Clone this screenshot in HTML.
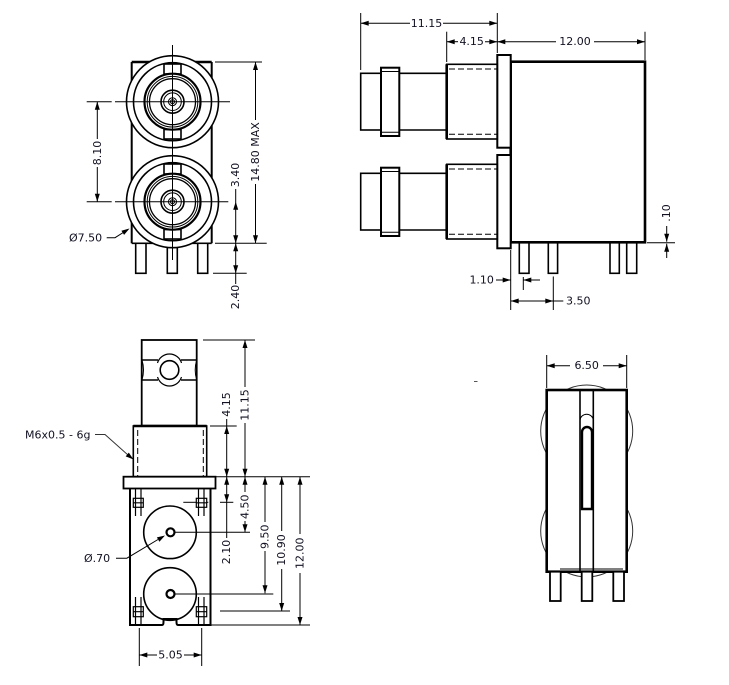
<!DOCTYPE html>
<html><head><meta charset="utf-8"><style>
html,body{margin:0;padding:0;background:#fff;}
svg{display:block;}
text{font-family:"DejaVu Sans","Liberation Sans",sans-serif;font-size:11px;fill:#111122;}
</style></head><body>
<svg width="729" height="685" viewBox="0 0 729 685" xmlns="http://www.w3.org/2000/svg">
<rect width="729" height="685" fill="#fff"/>

<!-- ========== TOP-LEFT VIEW ========== -->
<g stroke="#000" fill="none">
  <!-- body -->
  <line x1="131.7" y1="62" x2="131.7" y2="243.3" stroke-width="2"/>
  <line x1="211.7" y1="62" x2="211.7" y2="243.3" stroke-width="2"/>
  <line x1="131.7" y1="62" x2="211.7" y2="62" stroke-width="2.5"/>
  <line x1="131.7" y1="243.3" x2="211.7" y2="243.3" stroke-width="1.6"/>
  <!-- pins -->
  <rect x="135.7" y="243.3" width="10.3" height="30" stroke-width="1.6" fill="#fff"/>
  <rect x="167.3" y="243.3" width="10" height="30" stroke-width="1.6" fill="#fff"/>
  <rect x="197.7" y="243.3" width="10" height="30" stroke-width="1.6" fill="#fff"/>
  <!-- connectors -->
  <g id="conn">
    <circle cx="172.5" cy="101.7" r="46" stroke-width="1.6" fill="#fff"/>
    <circle cx="172.5" cy="101.7" r="39" stroke-width="1.6"/>
    <rect x="164" y="64" width="17" height="10" stroke-width="1.6"/>
    <rect x="164" y="129.5" width="17" height="9.5" stroke-width="1.6"/>
    <circle cx="172.5" cy="101.7" r="28" stroke-width="2.2" fill="#fff"/>
    <circle cx="172.5" cy="101.7" r="25.3" stroke-width="1"/>
    <circle cx="172.5" cy="101.7" r="23" stroke-width="1.3"/>
    <circle cx="172.5" cy="101.7" r="11.5" stroke-width="1.6"/>
    <circle cx="172.5" cy="101.7" r="8.8" stroke-width="1"/>
    <circle cx="172.5" cy="101.7" r="4" stroke-width="1"/>
    <circle cx="172.5" cy="101.7" r="2" stroke-width="1"/>
  </g>
  <g transform="translate(0,100)">
    <circle cx="172.5" cy="101.7" r="46" stroke-width="1.6" fill="#fff"/>
    <circle cx="172.5" cy="101.7" r="39" stroke-width="1.6"/>
    <rect x="164" y="64" width="17" height="10" stroke-width="1.6"/>
    <rect x="164" y="129.5" width="17" height="9.5" stroke-width="1.6"/>
    <circle cx="172.5" cy="101.7" r="28" stroke-width="2.2" fill="#fff"/>
    <circle cx="172.5" cy="101.7" r="25.3" stroke-width="1"/>
    <circle cx="172.5" cy="101.7" r="23" stroke-width="1.3"/>
    <circle cx="172.5" cy="101.7" r="11.5" stroke-width="1.6"/>
    <circle cx="172.5" cy="101.7" r="8.8" stroke-width="1"/>
    <circle cx="172.5" cy="101.7" r="4" stroke-width="1"/>
    <circle cx="172.5" cy="101.7" r="2" stroke-width="1"/>
  </g>
  <!-- center lines -->
  <g stroke-width="1">
    <line x1="172.5" y1="45" x2="172.5" y2="260"/>
    <line x1="115" y1="101.7" x2="230" y2="101.7"/>
    <line x1="115" y1="201.7" x2="228.3" y2="201.7"/>
    <line x1="86.7" y1="101.7" x2="111.7" y2="101.7"/>
    <line x1="86.7" y1="201.7" x2="111.7" y2="201.7"/>
    <!-- 8.10 -->
    <line x1="97.3" y1="101.7" x2="97.3" y2="139"/>
    <line x1="97.3" y1="167" x2="97.3" y2="201.7"/>
    <!-- 14.80 MAX -->
    <line x1="215" y1="62" x2="262" y2="62"/>
    <line x1="215" y1="243.3" x2="266.7" y2="243.3"/>
    <line x1="255.5" y1="62" x2="255.5" y2="120"/>
    <line x1="255.5" y1="184" x2="255.5" y2="243.3"/>
    <!-- 3.40 / 2.40 -->
    <line x1="235.7" y1="189" x2="235.7" y2="284"/>
    <line x1="213" y1="273.3" x2="246.7" y2="273.3"/>
    <!-- leader 7.50 -->
    <polyline points="106.7,237.7 115,237.7 124,232"/>
  </g>
</g>
<g fill="#000" stroke="none">
  <polygon points="97.3,101.7 94.8,109.7 99.8,109.7"/>
  <polygon points="97.3,201.7 94.8,193.7 99.8,193.7"/>
  <polygon points="255.5,62 253,70 258,70"/>
  <polygon points="255.5,243.3 253,235.3 258,235.3"/>
  <polygon points="235.7,201.7 233.2,209.7 238.2,209.7"/>
  <polygon points="235.7,243.3 233.2,235.3 238.2,235.3"/>
  <polygon points="235.7,243.3 233.2,251.3 238.2,251.3"/>
  <polygon points="235.7,273.3 233.2,265.3 238.2,265.3"/>
  <polygon points="129.5,228.5 124.1,234.9 121.4,230.7"/>
</g>
<text x="97.3" y="153" text-anchor="middle" dominant-baseline="central" transform="rotate(-90 97.3 153)">8.10</text>
<text x="255.5" y="152" text-anchor="middle" dominant-baseline="central" transform="rotate(-90 255.5 152)">14.80 MAX</text>
<text x="235.7" y="175" text-anchor="middle" dominant-baseline="central" transform="rotate(-90 235.7 175)">3.40</text>
<text x="235.7" y="297" text-anchor="middle" dominant-baseline="central" transform="rotate(-90 235.7 297)">2.40</text>
<text x="69" y="238" dominant-baseline="central">Ø7.50</text>

<!-- ========== TOP-RIGHT VIEW ========== -->
<g stroke="#000" fill="none">
  <!-- extension lines -->
  <g stroke-width="1">
    <line x1="360.7" y1="13" x2="360.7" y2="70"/>
    <line x1="497.3" y1="13" x2="497.3" y2="53"/>
    <line x1="446.7" y1="31.7" x2="446.7" y2="62"/>
    <line x1="645" y1="31.7" x2="645" y2="60"/>
    <line x1="360.7" y1="23.3" x2="410" y2="23.3"/>
    <line x1="443" y1="23.3" x2="497.3" y2="23.3"/>
    <line x1="446.7" y1="41.7" x2="458" y2="41.7"/>
    <line x1="485" y1="41.7" x2="556" y2="41.7"/>
    <line x1="594" y1="41.7" x2="645" y2="41.7"/>
    <!-- .10 -->
    <line x1="647" y1="242.7" x2="675" y2="242.7"/>
    <line x1="666.7" y1="226" x2="666.7" y2="241.7"/>
    <line x1="666.7" y1="243.7" x2="666.7" y2="258"/>
    <!-- 1.10 -->
    <line x1="496" y1="280" x2="510.7" y2="280"/>
    <line x1="510.7" y1="250" x2="510.7" y2="310"/>
    <line x1="523.3" y1="277" x2="523.3" y2="290"/>
    <line x1="523.3" y1="280" x2="540" y2="280"/>
    <!-- 3.50 -->
    <line x1="510.7" y1="301" x2="563.3" y2="301"/>
    <line x1="553.3" y1="276.5" x2="553.3" y2="310"/>
  </g>
  <!-- body -->
  <rect x="510.7" y="61.7" width="134.3" height="180.6" stroke-width="2.6"/>
  <!-- pins -->
  <rect x="519.3" y="242.3" width="9.7" height="31" stroke-width="1.6"/>
  <rect x="548.3" y="242.3" width="9.3" height="31" stroke-width="1.6"/>
  <rect x="610" y="242.3" width="9.3" height="31" stroke-width="1.6"/>
  <rect x="626.7" y="242.3" width="10" height="31" stroke-width="1.6"/>
  <!-- flanges -->
  <rect x="497.3" y="55" width="13.4" height="92.7" stroke-width="2" fill="#fff"/>
  <rect x="497.3" y="155" width="13.4" height="93.3" stroke-width="2" fill="#fff"/>
  <!-- barrels -->
  <rect x="446.7" y="64.3" width="50.6" height="74.7" stroke-width="1.6"/>
  <line x1="446.7" y1="64.3" x2="446.7" y2="139" stroke-width="2.6"/>
  <line x1="449" y1="69" x2="497" y2="69" stroke-width="1" stroke-dasharray="6,3"/>
  <line x1="449" y1="134.3" x2="497" y2="134.3" stroke-width="1" stroke-dasharray="6,3"/>
  <rect x="446.7" y="164.3" width="50.6" height="74.7" stroke-width="1.6"/>
  <line x1="446.7" y1="164.3" x2="446.7" y2="239" stroke-width="2.6"/>
  <line x1="449" y1="169" x2="497" y2="169" stroke-width="1" stroke-dasharray="6,3"/>
  <line x1="449" y1="234.3" x2="497" y2="234.3" stroke-width="1" stroke-dasharray="6,3"/>
  <!-- noses -->
  <g stroke-width="1.6">
    <path d="M399.3,73.3 H446.7 M399.3,130 H446.7"/>
    <rect x="360.7" y="73.3" width="20.3" height="56.7"/>
    <rect x="381" y="67.7" width="18.3" height="68.3" stroke-width="2"/>
    <path d="M381,71.5 H399.3 M381,132.2 H399.3" stroke-width="1"/>
    <path d="M399.3,173.3 H446.7 M399.3,230 H446.7"/>
    <rect x="360.7" y="173.3" width="20.3" height="56.7"/>
    <rect x="381" y="167.7" width="18.3" height="68.3" stroke-width="2"/>
    <path d="M381,171.5 H399.3 M381,232.2 H399.3" stroke-width="1"/>
  </g>
</g>
<g fill="#000" stroke="none">
  <polygon points="360.7,23.3 368.7,20.8 368.7,25.8"/>
  <polygon points="497.3,23.3 489.3,20.8 489.3,25.8"/>
  <polygon points="446.7,41.7 454.7,39.2 454.7,44.2"/>
  <polygon points="497.3,41.7 489.3,39.2 489.3,44.2"/>
  <polygon points="497.3,41.7 505.3,39.2 505.3,44.2"/>
  <polygon points="645,41.7 637,39.2 637,44.2"/>
  <polygon points="666.7,241.7 664.2,233.7 669.2,233.7"/>
  <polygon points="666.7,243.7 664.2,251.7 669.2,251.7"/>
  <polygon points="510.7,280 502.7,277.5 502.7,282.5"/>
  <polygon points="523.3,280 531.3,277.5 531.3,282.5"/>
  <polygon points="510.7,301 518.7,298.5 518.7,303.5"/>
  <polygon points="553.3,301 545.3,298.5 545.3,303.5"/>
</g>
<text x="426.5" y="23.3" text-anchor="middle" dominant-baseline="central">11.15</text>
<text x="471.7" y="41.7" text-anchor="middle" dominant-baseline="central">4.15</text>
<text x="575" y="41.7" text-anchor="middle" dominant-baseline="central">12.00</text>
<text x="666.7" y="213" text-anchor="middle" dominant-baseline="central" transform="rotate(-90 666.7 213)">.10</text>
<text x="481.7" y="280" text-anchor="middle" dominant-baseline="central">1.10</text>
<text x="578.3" y="301" text-anchor="middle" dominant-baseline="central">3.50</text>

<!-- stray mark -->
<line x1="474" y1="381.5" x2="477.5" y2="381.5" stroke="#555" stroke-width="1"/>

<!-- ========== BOTTOM-LEFT VIEW ========== -->
<g stroke="#000" fill="none">
  <!-- nose -->
  <rect x="141.7" y="340" width="55" height="85.7" stroke-width="1.8"/>
  <path d="M142,360 H158 M181,360 H196.7 M142,380 H158 M181,380 H196.7" stroke-width="1.6"/>
  <path d="M142,360 Q145,370 142,380 M196.7,360 Q193.7,370 196.7,380" stroke-width="1"/>
  <circle cx="169.5" cy="370" r="9.3" stroke-width="1.6"/>
  <path d="M157.5,363 A12.5,12.5 0 0 1 181.5,363 M157.5,377 A12.5,12.5 0 0 0 181.5,377" stroke-width="1.2"/>
  <!-- barrel -->
  <rect x="133.3" y="426" width="73.4" height="50.7" stroke-width="1.6"/>
  <line x1="133.3" y1="426" x2="206.7" y2="426" stroke-width="2.6"/>
  <line x1="137.7" y1="430" x2="137.7" y2="476" stroke-width="1" stroke-dasharray="6,3"/>
  <line x1="203.3" y1="430" x2="203.3" y2="476" stroke-width="1" stroke-dasharray="6,3"/>
  <!-- flange -->
  <rect x="123.5" y="476.7" width="92" height="11.8" stroke-width="1.8"/>
  <!-- body -->
  <path d="M130,488.5 V625 H162 Q163.5,625 163.5,622 V619 H176.5 V622 Q176.5,625 178,625 H210.5 V488.5" stroke-width="2"/>
  <!-- corner squares -->
  <g stroke-width="1.2">
    <rect x="133.3" y="498.3" width="10" height="9"/>
    <path d="M135.5,489 V516 M141,489 V516 M133.3,502.8 H143.3"/>
    <rect x="196.3" y="498.3" width="10.4" height="9"/>
    <path d="M198.5,489 V516 M204,489 V516 M196.3,502.8 H206.7"/>
    <rect x="133.3" y="606.7" width="10" height="10"/>
    <path d="M135.5,597 V625 M141,597 V625 M133.3,611.7 H143.3"/>
    <rect x="196.3" y="606.7" width="10.4" height="10"/>
    <path d="M198.5,597 V625 M204,597 V625 M196.3,611.7 H206.7"/>
  </g>
  <!-- circles -->
  <circle cx="170" cy="532.3" r="26.3" stroke-width="1.6"/>
  <circle cx="170" cy="594" r="26.3" stroke-width="1.6"/>
  <circle cx="170.5" cy="532.3" r="4" stroke-width="2.2" fill="#fff"/>
  <circle cx="170.5" cy="594" r="4" stroke-width="2.2" fill="#fff"/>
  <!-- extension & dim lines -->
  <g stroke-width="1">
    <line x1="174.5" y1="532.3" x2="250" y2="532.3"/>
    <line x1="174.5" y1="594" x2="273.3" y2="594"/>
    <line x1="183.3" y1="502.3" x2="196" y2="502.3"/>
    <line x1="207" y1="502.3" x2="208.3" y2="502.3"/>
    <line x1="220" y1="502.3" x2="233.3" y2="502.3"/>
    <line x1="220" y1="611" x2="290" y2="611"/>
    <line x1="211" y1="625" x2="310" y2="625"/>
    <line x1="216" y1="476.7" x2="310" y2="476.7"/>
    <line x1="210" y1="426" x2="236.7" y2="426"/>
    <line x1="203" y1="340" x2="255" y2="340"/>
    <!-- 11.15 -->
    <line x1="245" y1="340" x2="245" y2="387"/>
    <line x1="245" y1="423" x2="245" y2="476.7"/>
    <!-- 4.15 -->
    <line x1="226.7" y1="419" x2="226.7" y2="476.7"/>
    <!-- 4.50 -->
    <line x1="245" y1="476.7" x2="245" y2="492"/>
    <line x1="245" y1="521" x2="245" y2="532.3"/>
    <!-- 2.10 -->
    <line x1="226.7" y1="476.7" x2="226.7" y2="538"/>
    <!-- 9.50 -->
    <line x1="265" y1="476.7" x2="265" y2="522"/>
    <line x1="265" y1="551" x2="265" y2="593.3"/>
    <!-- 10.90 -->
    <line x1="281.7" y1="476.7" x2="281.7" y2="531"/>
    <line x1="281.7" y1="569" x2="281.7" y2="611"/>
    <!-- 12.00 -->
    <line x1="300" y1="476.7" x2="300" y2="534"/>
    <line x1="300" y1="573" x2="300" y2="625"/>
    <!-- 5.05 -->
    <line x1="139.3" y1="628" x2="139.3" y2="666"/>
    <line x1="201.7" y1="628" x2="201.7" y2="666"/>
    <line x1="139.3" y1="655" x2="157" y2="655"/>
    <line x1="184" y1="655" x2="201.7" y2="655"/>
    <!-- leaders -->
    <polyline points="95,434.5 105,434.5 128,455" stroke="#333"/>
    <polyline points="116,558.3 126.7,558.3 158,539.5"/>
  </g>
</g>
<g fill="#000" stroke="none">
  <polygon points="245,340 242.5,348 247.5,348"/>
  <polygon points="245,476.7 242.5,468.7 247.5,468.7"/>
  <polygon points="226.7,426 224.2,434 229.2,434"/>
  <polygon points="226.7,476.7 224.2,468.7 229.2,468.7"/>
  <polygon points="245,476.7 242.5,484.7 247.5,484.7"/>
  <polygon points="245,532.3 242.5,524.3 247.5,524.3"/>
  <polygon points="226.7,476.7 224.2,484.7 229.2,484.7"/>
  <polygon points="226.7,502.3 224.2,494.3 229.2,494.3"/>
  <polygon points="265,476.7 262.5,484.7 267.5,484.7"/>
  <polygon points="265,593.3 262.5,585.3 267.5,585.3"/>
  <polygon points="281.7,476.7 279.2,484.7 284.2,484.7"/>
  <polygon points="281.7,611 279.2,603 284.2,603"/>
  <polygon points="300,476.7 297.5,484.7 302.5,484.7"/>
  <polygon points="300,625 297.5,617 302.5,617"/>
  <polygon points="139.3,655 147.3,652.5 147.3,657.5"/>
  <polygon points="201.7,655 193.7,652.5 193.7,657.5"/>
  <polygon points="133.5,459.5 125.7,456.4 128.8,452.6"/>
  <polygon points="165,535.5 159.4,541.7 156.9,537.4"/>
</g>
<text x="245" y="405" text-anchor="middle" dominant-baseline="central" transform="rotate(-90 245 405)">11.15</text>
<text x="226.7" y="404.5" text-anchor="middle" dominant-baseline="central" transform="rotate(-90 226.7 404.5)">4.15</text>
<text x="245" y="506.7" text-anchor="middle" dominant-baseline="central" transform="rotate(-90 245 506.7)">4.50</text>
<text x="226.7" y="552" text-anchor="middle" dominant-baseline="central" transform="rotate(-90 226.7 552)">2.10</text>
<text x="265" y="536.7" text-anchor="middle" dominant-baseline="central" transform="rotate(-90 265 536.7)">9.50</text>
<text x="281.7" y="550" text-anchor="middle" dominant-baseline="central" transform="rotate(-90 281.7 550)">10.90</text>
<text x="300" y="553.3" text-anchor="middle" dominant-baseline="central" transform="rotate(-90 300 553.3)">12.00</text>
<text x="170.5" y="655" text-anchor="middle" dominant-baseline="central">5.05</text>
<text x="25" y="435" dominant-baseline="central">M6x0.5 - 6g</text>
<text x="84" y="558.3" dominant-baseline="central">Ø.70</text>

<!-- ========== BOTTOM-RIGHT VIEW ========== -->
<g stroke="#000" fill="none">
  <circle cx="586.7" cy="431" r="46" stroke-width="1" stroke="#333"/>
  <circle cx="586.7" cy="531" r="46" stroke-width="1" stroke="#333"/>
  <rect x="546.7" y="390" width="80" height="181.7" stroke-width="2.6" fill="#fff"/>
  <line x1="580" y1="390" x2="580" y2="571.7" stroke-width="1.6"/>
  <line x1="593.3" y1="390" x2="593.3" y2="571.7" stroke-width="1.6"/>
  <path d="M580,420 A6.7,6.5 0 0 1 593.3,420" stroke-width="1"/>
  <path d="M582,509 V432 A5,5 0 0 1 592,432 V509 Z" stroke-width="2.4"/>
  <line x1="560" y1="569" x2="623" y2="569" stroke-width="1"/>
  <rect x="550" y="571.7" width="10.7" height="29.3" stroke-width="1.8" fill="#fff"/>
  <rect x="581.7" y="571.7" width="10.6" height="29.3" stroke-width="1.8" fill="#fff"/>
  <rect x="613.3" y="571.7" width="10.7" height="29.3" stroke-width="1.8" fill="#fff"/>
  <g stroke-width="1">
    <line x1="546.7" y1="355" x2="546.7" y2="388"/>
    <line x1="626.7" y1="355" x2="626.7" y2="388"/>
    <line x1="546.7" y1="365.7" x2="570" y2="365.7"/>
    <line x1="603" y1="365.7" x2="626.7" y2="365.7"/>
  </g>
</g>
<g fill="#000" stroke="none">
  <polygon points="546.7,365.7 554.7,363.2 554.7,368.2"/>
  <polygon points="626.7,365.7 618.7,363.2 618.7,368.2"/>
</g>
<text x="586.7" y="365.7" text-anchor="middle" dominant-baseline="central">6.50</text>
</svg>
</body></html>
